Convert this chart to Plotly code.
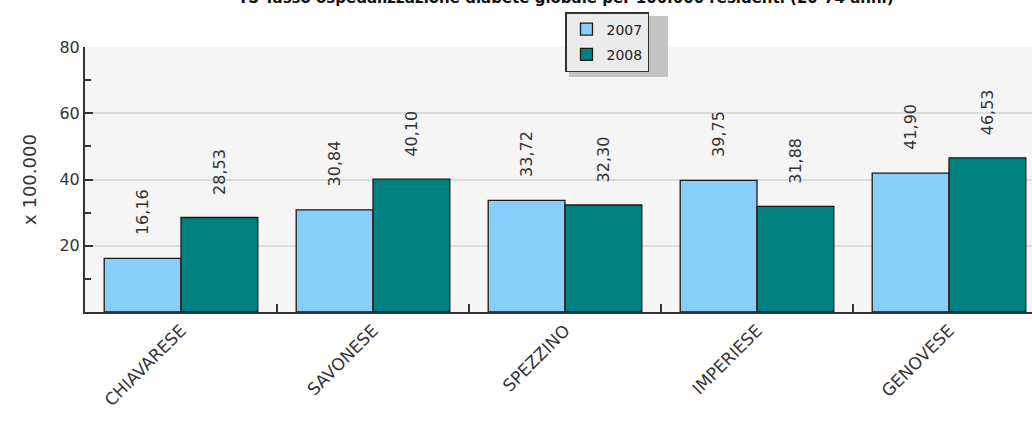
import plotly.graph_objects as go

categories = ["CHIAVARESE", "SAVONESE", "SPEZZINO", "IMPERIESE", "GENOVESE"]
series_names = ["2007", "2008"]
values_2007 = [16.16, 30.84, 33.72, 39.75, 41.90]
values_2008 = [28.53, 40.10, 32.30, 31.88, 46.53]
labels_2007 = ["16,16", "30,84", "33,72", "39,75", "41,90"]
labels_2008 = ["28,53", "40,10", "32,30", "31,88", "46,53"]
y_ticks = [20, 40, 60, 80]
title_text = "TS Tasso ospedalizzazione diabete globale per 100.000 residenti (20-74 anni)"
y_title = "x 100.000"

W, H = 1032, 421
ML, MR, MT, MB = 85, 0, 47, 109
plot_w = W - ML - MR
plot_h = H - MT - MB
cat_px = 192.0
x_end = -0.5 + plot_w / cat_px

font_family = "DejaVu Sans"
txt_color = "#333333"

fig = go.Figure()
fig.add_trace(go.Bar(
    x=categories, y=values_2007, name=series_names[0],
    marker=dict(color="#87CEFA", line=dict(color="#1a1a1a", width=1.3)),
    legendgroup="a",
))
fig.add_trace(go.Bar(
    x=categories, y=values_2008, name=series_names[1],
    marker=dict(color="#008080", line=dict(color="#1a1a1a", width=1.3)),
    legendgroup="b",
))

half = cat_px * 0.8 / 4
annotations = []
for c, v, t in zip(categories, values_2007, labels_2007):
    annotations.append(dict(x=c, y=v, xref="x", yref="y", text=t, showarrow=False,
                            textangle=-90, xanchor="center", yanchor="bottom",
                            xshift=-half, yshift=21,
                            font=dict(family=font_family, size=16, color=txt_color)))
for c, v, t in zip(categories, values_2008, labels_2008):
    annotations.append(dict(x=c, y=v, xref="x", yref="y", text=t, showarrow=False,
                            textangle=-90, xanchor="center", yanchor="bottom",
                            xshift=half, yshift=21,
                            font=dict(family=font_family, size=16, color=txt_color)))

# title (clipped at the top as in the reference)
annotations.append(dict(
    x=(566 - ML) / plot_w, y=(H - MB - 9) / plot_h, xref="paper", yref="paper",
    text="<b>" + title_text + "</b>", showarrow=False,
    xanchor="center", yanchor="bottom",
    font=dict(family=font_family, size=15, color="#111111")))

# legend shadow
lx0 = (565 - ML) / plot_w
ly0 = (H - MB - 12) / plot_h
shapes = [dict(type="rect", xref="paper", yref="paper",
               x0=(569 - ML) / plot_w, x1=(668 - ML) / plot_w,
               y0=(H - MB - 77) / plot_h, y1=(H - MB - 16) / plot_h,
               fillcolor="#c4c4c4", line=dict(width=0), layer="above")]

fig.update_layout(
    width=W, height=H,
    margin=dict(l=ML, r=MR, t=MT, b=MB, pad=0),
    paper_bgcolor="white",
    plot_bgcolor="#f5f5f5",
    barmode="group", bargap=0.2, bargroupgap=0,
    font=dict(family=font_family, size=15, color=txt_color),
    showlegend=True,
    legend=dict(x=lx0, y=ly0, xanchor="left", yanchor="top",
                bgcolor="#ebebeb", bordercolor="#333333", borderwidth=1.5,
                font=dict(family=font_family, size=14, color="#222222"),
                traceorder="grouped", tracegroupgap=4,
                itemwidth=30),
    annotations=annotations,
    shapes=shapes,
    xaxis=dict(
        type="category", range=[-0.5, x_end],
        showline=True, linecolor="#333333", linewidth=2,
        ticks="inside", tickson="boundaries", ticklen=8, tickcolor="#333333", tickwidth=1.5,
        tickangle=-45, showgrid=False,
        tickfont=dict(family=font_family, size=17, color=txt_color),
    ),
    yaxis=dict(
        range=[0, 80], tickvals=y_ticks,
        showline=True, linecolor="#333333", linewidth=2,
        ticks="inside", ticklen=8, tickcolor="#333333", tickwidth=1.5,
        showgrid=True, gridcolor="#dcdcdc", gridwidth=1.5,
        zeroline=False,
        minor=dict(dtick=10, ticks="inside", ticklen=6, tickcolor="#333333", tickwidth=1.5, showgrid=False),
        tickfont=dict(family=font_family, size=16, color=txt_color),
        title=dict(text=y_title, font=dict(family=font_family, size=18, color=txt_color), standoff=18),
    ),
)

fig.write_html(
    "out.html",
    config={"displayModeBar": False},
    post_script="document.body.style.margin='0px';document.body.style.overflow='hidden';",
)
